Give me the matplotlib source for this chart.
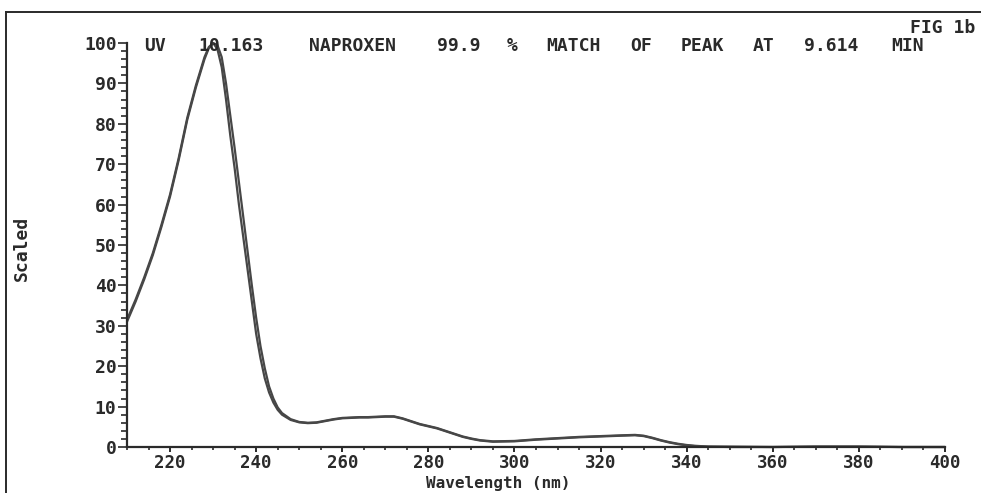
import matplotlib
matplotlib.use("Agg")
import matplotlib.pyplot as plt
from matplotlib.lines import Line2D
from matplotlib.ticker import MultipleLocator, FixedLocator

# ---------------- data ----------------
wavelength_a = [210, 212, 214, 216, 218, 220, 222, 224, 226, 228, 229, 230, 231, 232, 233, 234,
                235, 236, 237, 238, 239, 240, 241, 242, 243, 244, 245, 246, 248, 250, 252, 254,
                256, 258, 260, 262, 264, 266, 268, 270, 272, 274, 276, 278, 280, 282, 284, 286,
                288, 290, 292, 295, 300, 305, 310, 315, 320, 325, 328, 330, 332, 334, 336, 338,
                340, 342, 345, 350, 360, 370, 380, 390, 400]
scaled_a = [31, 36, 41.5, 47.5, 54.5, 62, 71, 81, 89, 96, 98.7, 100, 98.5, 94, 86, 77,
            69, 60, 52, 44, 36, 28, 22, 17, 13.5, 11, 9.2, 8, 6.7, 6.1, 5.9, 6.0,
            6.4, 6.8, 7.1, 7.2, 7.3, 7.3, 7.4, 7.5, 7.5, 7.0, 6.3, 5.6, 5.1, 4.6, 3.9, 3.2,
            2.5, 2.0, 1.6, 1.3, 1.4, 1.8, 2.1, 2.4, 2.6, 2.8, 2.9, 2.7, 2.2, 1.6, 1.1, 0.7,
            0.4, 0.2, 0.1, 0.0, 0.0, 0.1, 0.1, 0.0, 0.0]

wavelength_b = [210, 212, 214, 216, 218, 220, 222, 224, 226, 228, 229, 230, 231, 232, 233, 234,
                235, 236, 237, 238, 239, 240, 241, 242, 243, 244, 245, 246, 248, 250, 252, 254,
                256, 258, 260, 262, 264, 266, 268, 270, 272, 274, 276, 278, 280, 282, 284, 286,
                288, 290, 292, 295, 300, 305, 310, 315, 320, 325, 328, 330, 332, 334, 336, 338,
                340, 342, 345, 350, 360, 370, 380, 390, 400]
scaled_b = [31.5, 36.5, 42, 48, 55, 62.5, 71.5, 81.5, 89.5, 96.5, 99, 100, 99.5, 96.5, 90, 82,
            74, 65.5, 57, 48.5, 40, 32, 25, 19.5, 15, 12, 9.8, 8.4, 6.9, 6.2, 6.0, 6.1,
            6.5, 6.9, 7.2, 7.3, 7.4, 7.4, 7.5, 7.6, 7.6, 7.1, 6.4, 5.7, 5.2, 4.7, 4.0, 3.3,
            2.6, 2.1, 1.7, 1.4, 1.5, 1.9, 2.2, 2.5, 2.7, 2.9, 3.0, 2.8, 2.3, 1.7, 1.2, 0.8,
            0.5, 0.3, 0.1, 0.1, 0.0, 0.1, 0.1, 0.0, 0.0]

x_major_ticks = [220, 240, 260, 280, 300, 320, 340, 360, 380, 400]
x_tick_labels = ["220", "240", "260", "280", "300", "320", "340", "360", "380", "400"]
y_major_ticks = [0, 10, 20, 30, 40, 50, 60, 70, 80, 90, 100]
y_tick_labels = ["0", "10", "20", "30", "40", "50", "60", "70", "80", "90", "100"]

title_text = "UV 10.163 NAPROXEN 99.9 % MATCH OF PEAK AT 9.614 MIN"
fig_label = "FIG 1b"
x_label = "Wavelength (nm)"
y_label = "Scaled"

# ---------------- figure ----------------
W, H = 981, 493
fig = plt.figure(figsize=(W / 100, H / 100), dpi=100)
fig.patch.set_facecolor("white")

FONT = "DejaVu Sans Mono"
FS = 13
INK = "#2a2a2a"
LINE = "#474747"

ax_l, ax_r, ax_b, ax_t = 127, 945, 447, 43
ax = fig.add_axes([ax_l / W, 1 - ax_b / H, (ax_r - ax_l) / W, (ax_b - ax_t) / H])
ax.set_xlim(210, 400)
ax.set_ylim(0, 100)

ax.plot(wavelength_a, scaled_a, color=LINE, lw=1.6, solid_capstyle="round", clip_on=False)
ax.plot(wavelength_b, scaled_b, color=LINE, lw=1.6, solid_capstyle="round", clip_on=False)

for s in ["top", "right"]:
    ax.spines[s].set_visible(False)
for s in ["left", "bottom"]:
    ax.spines[s].set_linewidth(1.6)
    ax.spines[s].set_color(INK)

ax.xaxis.set_major_locator(FixedLocator(x_major_ticks))
ax.set_xticklabels(x_tick_labels)
ax.xaxis.set_minor_locator(MultipleLocator(5))
ax.yaxis.set_major_locator(FixedLocator(y_major_ticks))
ax.set_yticklabels(y_tick_labels)
ax.yaxis.set_minor_locator(MultipleLocator(2))

ax.tick_params(axis="x", which="major", direction="out", length=3.8, width=1.4, color=INK,
               pad=1.5, labelsize=12.5, labelcolor=INK)
ax.tick_params(axis="x", which="minor", direction="out", length=2.2, width=1.2, color=INK)
ax.tick_params(axis="y", which="major", direction="out", length=6.5, width=1.2, color=INK,
               pad=1, labelsize=FS, labelcolor=INK)
ax.tick_params(axis="y", which="minor", direction="out", length=4, width=1.2, color=INK)
for lab in ax.get_xticklabels() + ax.get_yticklabels():
    lab.set_family(FONT)
    lab.set_fontweight("bold")

# title: words centred on a fixed character pitch (plotter style)
pitch = 15.2
x0 = 140
idx = 0
for word in title_text.split(" "):
    pos = title_text.index(word, idx)
    cx = x0 + (pos + len(word) / 2) * pitch
    fig.text(cx / W, 1 - 46 / H, word, family=FONT, fontsize=FS,
             fontweight="bold", color=INK, ha="center", va="center")
    idx = pos + len(word)

fig.text(975 / W, 1 - 28 / H, fig_label, family=FONT, fontsize=FS, fontweight="bold",
         color=INK, ha="right", va="center")
fig.text(498 / W, 1 - 483.5 / H, x_label, family=FONT, fontsize=11.5, fontweight="bold",
         color=INK, ha="center", va="center")
fig.text(22 / W, 1 - 248 / H, y_label, family=FONT, fontsize=FS, fontweight="bold",
         color=INK, ha="center", va="center", rotation=90)

# outer frame of the scanned page
fig.add_artist(Line2D([6 / W, 6 / W], [0, 1 - 12 / H], transform=fig.transFigure,
                      color=INK, lw=1.4))
fig.add_artist(Line2D([6 / W, 1], [1 - 12 / H, 1 - 12 / H], transform=fig.transFigure,
                      color=INK, lw=1.4))

fig.savefig("out.png", dpi=100, facecolor="white")
